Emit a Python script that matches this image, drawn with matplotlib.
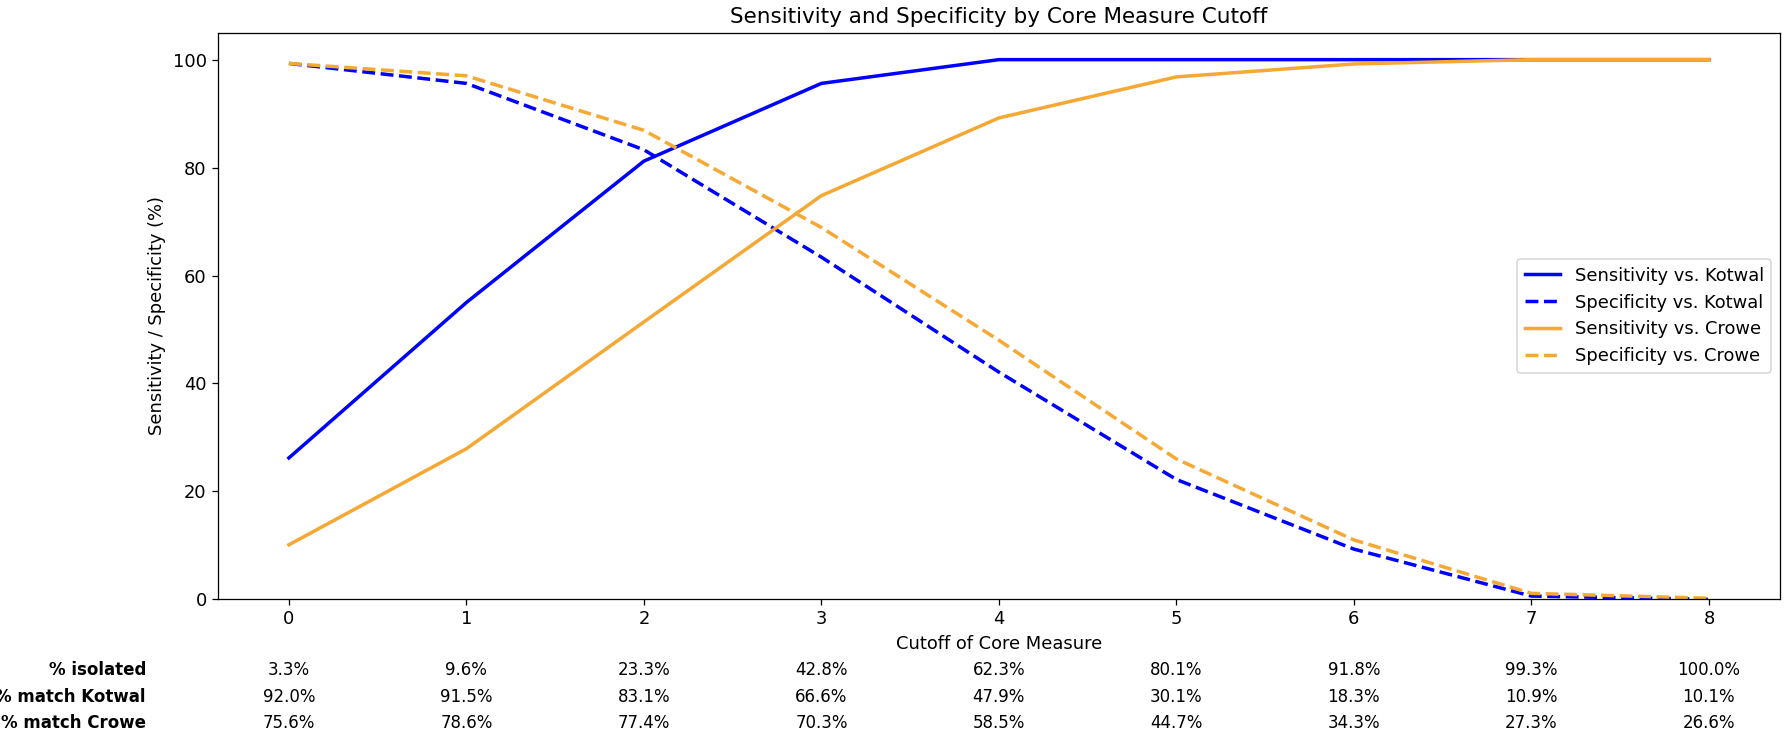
import numpy as np
import matplotlib
matplotlib.use('Agg')
import matplotlib.pyplot as plt
from matplotlib.transforms import blended_transform_factory

plt.rcParams['font.size'] = 11.3
plt.rcParams['lines.linewidth'] = 2.2

cutoffs = [0, 1, 2, 3, 4, 5, 6, 7, 8]
sens_kotwal = [26.2, 55.0, 81.2, 95.6, 100.0, 100.0, 100.0, 100.0, 100.0]
spec_kotwal = [99.3, 95.6, 83.3, 63.4, 42.1, 22.2, 9.3, 0.6, 0.0]
sens_crowe = [10.1, 27.9, 51.4, 74.8, 89.2, 96.8, 99.2, 100.0, 100.0]
spec_crowe = [99.3, 97.0, 86.9, 68.9, 48.0, 26.0, 11.0, 1.1, 0.2]

row_labels = ['% isolated', '% match Kotwal', '% match Crowe']
pct_isolated = ['3.3%', '9.6%', '23.3%', '42.8%', '62.3%', '80.1%', '91.8%', '99.3%', '100.0%']
pct_kotwal = ['92.0%', '91.5%', '83.1%', '66.6%', '47.9%', '30.1%', '18.3%', '10.9%', '10.1%']
pct_crowe = ['75.6%', '78.6%', '77.4%', '70.3%', '58.5%', '44.7%', '34.3%', '27.3%', '26.6%']

dpi = 114
fig, ax = plt.subplots(figsize=(1786/dpi, 734/dpi), dpi=dpi)
fig.subplots_adjust(left=0.122, right=0.9966, top=0.9555, bottom=0.1835)

orange = '#f5a833'
ax.plot(cutoffs, sens_kotwal, '-', color='blue', label='Sensitivity vs. Kotwal')
ax.plot(cutoffs, spec_kotwal, '--', color='blue', label='Specificity vs. Kotwal')
ax.plot(cutoffs, sens_crowe, '-', color=orange, label='Sensitivity vs. Crowe')
ax.plot(cutoffs, spec_crowe, '--', color=orange, label='Specificity vs. Crowe')

ax.set_ylim(0, 105)
ax.set_xticks(cutoffs)
ax.set_xlabel('Cutoff of Core Measure')
ax.set_ylabel('Sensitivity / Specificity (%)')
ax.set_title('Sensitivity and Specificity by Core Measure Cutoff')
ax.legend(loc='center right')

# little table of percentages under the x axis
trans = blended_transform_factory(ax.transData, fig.transFigure)
row_y = [0.087, 0.050, 0.015]
for lab, vals, y in zip(row_labels, [pct_isolated, pct_kotwal, pct_crowe], row_y):
    fig.text(0.0817, y, lab, ha='right', va='center', fontweight='bold', fontsize=10.5)
    for x, v in zip(cutoffs, vals):
        ax.text(x, y, v, transform=trans, ha='center', va='center', fontsize=10.5)

fig.savefig('out.png', dpi=dpi)
